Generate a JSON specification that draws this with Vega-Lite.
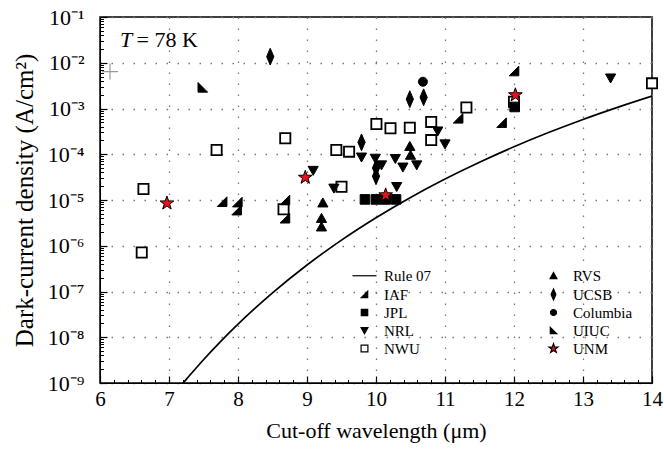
{
  "$schema": "https://vega.github.io/schema/vega-lite/v6.json",
  "width": 552,
  "height": 366,
  "autosize": {"type": "none"},
  "padding": {"left": 100, "top": 17, "right": 12, "bottom": 67},
  "background": "white",
  "config": {
    "font": "Liberation Serif",
    "view": {"stroke": "black", "strokeWidth": 1.5},
    "style": {
      "guide-label": {"font": "Liberation Serif", "fontSize": 15, "fill": "black"}
    },
    "axis": {
      "labelFont": "Liberation Serif",
      "titleFont": "Liberation Serif",
      "labelColor": "black",
      "titleColor": "black",
      "titleFontWeight": "normal",
      "domainColor": "black",
      "tickColor": "black"
    },
    "legend": {
      "orient": "none",
      "legendX": 257,
      "legendY": 251,
      "columns": 2,
      "labelFont": "Liberation Serif",
      "labelFontSize": 15,
      "labelColor": "black",
      "symbolSize": 64,
      "symbolStrokeWidth": 1.2,
      "labelOffset": 12,
      "columnPadding": 114,
      "rowPadding": 2,
      "padding": 0
    }
  },
  "datasets": {
    "rule07": [
      {"wl": 7.2, "J": 9.82e-10},
      {"wl": 7.25, "J": 1.20e-9},
      {"wl": 7.5, "J": 3.23e-9},
      {"wl": 7.75, "J": 8.12e-9},
      {"wl": 8.0, "J": 1.93e-8},
      {"wl": 8.5, "J": 9.32e-8},
      {"wl": 9.0, "J": 3.79e-7},
      {"wl": 9.5, "J": 1.33e-6},
      {"wl": 10.0, "J": 4.10e-6},
      {"wl": 10.5, "J": 1.14e-5},
      {"wl": 11.0, "J": 2.88e-5},
      {"wl": 11.5, "J": 6.71e-5},
      {"wl": 12.0, "J": 1.46e-4},
      {"wl": 12.5, "J": 2.98e-4},
      {"wl": 13.0, "J": 5.77e-4},
      {"wl": 13.5, "J": 1.06e-3},
      {"wl": 14.0, "J": 1.87e-3}
    ],
    "nwu": [
      {"lab": "NWU", "wl": 6.605, "J": 7.1e-7},
      {"lab": "NWU", "wl": 6.63, "J": 1.74e-5},
      {"lab": "NWU", "wl": 7.69, "J": 1.24e-4},
      {"lab": "NWU", "wl": 8.685, "J": 2.23e-4},
      {"lab": "NWU", "wl": 8.66, "J": 6.3e-6},
      {"lab": "NWU", "wl": 9.425, "J": 1.24e-4},
      {"lab": "NWU", "wl": 9.61, "J": 1.14e-4},
      {"lab": "NWU", "wl": 9.5, "J": 1.95e-5},
      {"lab": "NWU", "wl": 10.006, "J": 4.6e-4},
      {"lab": "NWU", "wl": 10.21, "J": 3.7e-4},
      {"lab": "NWU", "wl": 10.49, "J": 3.8e-4},
      {"lab": "NWU", "wl": 10.8, "J": 5.1e-4},
      {"lab": "NWU", "wl": 10.8, "J": 2.04e-4},
      {"lab": "NWU", "wl": 11.31, "J": 1.05e-3},
      {"lab": "NWU", "wl": 12.0, "J": 1.41e-3},
      {"lab": "NWU", "wl": 14.0, "J": 3.55e-3}
    ],
    "pts": [
      {"lab": "IAF", "wl": 12.0, "J": 6.6e-3},
      {"lab": "IAF", "wl": 11.19, "J": 6.1e-4},
      {"lab": "IAF", "wl": 11.82, "J": 4.9e-4},
      {"lab": "IAF", "wl": 7.77, "J": 9.2e-6},
      {"lab": "IAF", "wl": 7.99, "J": 9.0e-6},
      {"lab": "IAF", "wl": 7.98, "J": 6.0e-6},
      {"lab": "IAF", "wl": 8.68, "J": 1.0e-5},
      {"lab": "IAF", "wl": 8.68, "J": 4.0e-6},
      {"lab": "JPL", "wl": 9.84, "J": 1.03e-5},
      {"lab": "JPL", "wl": 10.0, "J": 1.03e-5},
      {"lab": "JPL", "wl": 10.14, "J": 1.03e-5},
      {"lab": "JPL", "wl": 10.29, "J": 1.03e-5},
      {"lab": "JPL", "wl": 12.01, "J": 1.08e-3},
      {"lab": "NRL", "wl": 13.4, "J": 4.6e-3},
      {"lab": "NRL", "wl": 10.895, "J": 3.2e-4},
      {"lab": "NRL", "wl": 11.0, "J": 1.67e-4},
      {"lab": "NRL", "wl": 9.79, "J": 8.6e-5},
      {"lab": "NRL", "wl": 9.99, "J": 8.1e-5},
      {"lab": "NRL", "wl": 10.08, "J": 5.8e-5},
      {"lab": "NRL", "wl": 10.28, "J": 8.0e-5},
      {"lab": "NRL", "wl": 10.39, "J": 5.2e-5},
      {"lab": "NRL", "wl": 10.59, "J": 5.8e-5},
      {"lab": "NRL", "wl": 10.3, "J": 1.95e-5},
      {"lab": "NRL", "wl": 9.09, "J": 4.4e-5},
      {"lab": "NRL", "wl": 9.39, "J": 1.8e-5},
      {"lab": "RVS", "wl": 10.49, "J": 1.5e-4},
      {"lab": "RVS", "wl": 10.5, "J": 9.6e-5},
      {"lab": "RVS", "wl": 9.23, "J": 8.7e-6},
      {"lab": "RVS", "wl": 9.21, "J": 4.0e-6},
      {"lab": "RVS", "wl": 9.21, "J": 2.6e-6},
      {"lab": "UCSB", "wl": 8.467, "J": 1.36e-2},
      {"lab": "UCSB", "wl": 10.49, "J": 1.6e-3},
      {"lab": "UCSB", "wl": 10.69, "J": 1.76e-3},
      {"lab": "UCSB", "wl": 9.79, "J": 1.82e-4},
      {"lab": "UCSB", "wl": 10.0, "J": 5.0e-5},
      {"lab": "UCSB", "wl": 10.0, "J": 3.3e-5},
      {"lab": "Columbia", "wl": 10.68, "J": 3.85e-3},
      {"lab": "UIUC", "wl": 7.49, "J": 2.9e-3},
      {"lab": "UNM", "wl": 6.97, "J": 8.5e-6},
      {"lab": "UNM", "wl": 8.975, "J": 3.1e-5},
      {"lab": "UNM", "wl": 10.14, "J": 1.28e-5},
      {"lab": "UNM", "wl": 12.02, "J": 1.97e-3}
    ]
  },
  "layer": [
    {
      "data": {"name": "rule07"},
      "mark": {"type": "line", "color": "black", "strokeWidth": 1.7, "clip": true, "interpolate": "monotone"},
      "encoding": {
        "x": {
          "field": "wl", "type": "quantitative",
          "scale": {"domain": [6, 14], "nice": false, "zero": false},
          "axis": {
            "title": "Cut-off wavelength (μm)",
            "values": [6, 7, 8, 9, 10, 11, 12, 13, 14],
            "format": "d",
            "tickSize": -7,
            "tickWidth": 1.2,
            "labelPadding": 12,
            "labelFont": "Liberation Serif",
            "labelFontSize": 21,
            "labelFlush": false,
            "titleFontSize": 22,
            "titlePadding": 11,
            "grid": true,
            "gridColor": "#777",
            "gridDash": [1.5, 9.5],
            "gridWidth": 1.3
          }
        },
        "y": {
          "field": "J", "type": "quantitative",
          "scale": {"type": "log", "domain": [1e-9, 0.1], "nice": false},
          "axis": {
            "title": "Dark-current density (A/cm²)",
            "values": [1e-9, 1e-8, 1e-7, 1e-6, 1e-5, 1e-4, 1e-3, 1e-2, 1e-1],
            "labelExpr": "'10' + ['⁻¹','⁻²','⁻³','⁻⁴','⁻⁵','⁻⁶','⁻⁷','⁻⁸','⁻⁹'][round(-log(datum.value)/LN10) - 1]",
            "tickSize": -7,
            "tickWidth": 1.2,
            "labelPadding": 23,
            "labelFont": "Liberation Serif",
            "labelFontSize": 22,
            "labelFlush": false,
            "titleFontSize": 25,
            "titlePadding": 10,
            "grid": true,
            "gridColor": "#777",
            "gridDash": [1.5, 9.5],
            "gridWidth": 1.3
          }
        }
      }
    },
    {
      "data": {"name": "nwu"},
      "mark": {"type": "point", "strokeWidth": 1.8, "opacity": 1, "fillOpacity": 1, "size": 144},
      "encoding": {
        "x": {
          "field": "wl", "type": "quantitative",
          "scale": {"domain": [6, 14], "nice": false, "zero": false},
          "axis": {
            "orient": "bottom",
            "title": null,
            "labels": false,
            "grid": false,
            "domain": false,
            "tickSize": -3.5,
            "tickWidth": 1,
            "values": [6.2, 6.4, 6.6, 6.8, 7.2, 7.4, 7.6, 7.8, 8.2, 8.4, 8.6, 8.8, 9.2, 9.4, 9.6, 9.8, 10.2, 10.4, 10.6, 10.8, 11.2, 11.4, 11.6, 11.8, 12.2, 12.4, 12.6, 12.8, 13.2, 13.4, 13.6, 13.8]
          }
        },
        "y": {
          "field": "J", "type": "quantitative",
          "scale": {"type": "log", "domain": [1e-9, 0.1], "nice": false},
          "axis": {
            "orient": "left",
            "title": null,
            "labels": false,
            "grid": false,
            "domain": false,
            "tickSize": -3.5,
            "tickWidth": 1,
            "values": [2e-9, 3e-9, 4e-9, 5e-9, 6e-9, 7e-9, 8e-9, 9e-9, 2e-8, 3e-8, 4e-8, 5e-8, 6e-8, 7e-8, 8e-8, 9e-8, 2e-7, 3e-7, 4e-7, 5e-7, 6e-7, 7e-7, 8e-7, 9e-7, 2e-6, 3e-6, 4e-6, 5e-6, 6e-6, 7e-6, 8e-6, 9e-6, 2e-5, 3e-5, 4e-5, 5e-5, 6e-5, 7e-5, 8e-5, 9e-5, 2e-4, 3e-4, 4e-4, 5e-4, 6e-4, 7e-4, 8e-4, 9e-4, 2e-3, 3e-3, 4e-3, 5e-3, 6e-3, 7e-3, 8e-3, 9e-3, 2e-2, 3e-2, 4e-2, 5e-2, 6e-2, 7e-2, 8e-2, 9e-2]
          }
        },
        "shape": {
          "field": "lab", "type": "nominal",
          "scale": {
            "domain": ["Rule 07", "IAF", "JPL", "NRL", "NWU", "RVS", "UCSB", "Columbia", "UIUC", "UNM"],
            "range": [
              "M-3,0L3,0",
              "M0.8,-0.8L0.8,0.8L-0.8,0.8Z",
              "M-0.8,-0.8L0.8,-0.8L0.8,0.8L-0.8,0.8Z",
              "M-0.85,-0.7L0.85,-0.7L0,0.8Z",
              "M-0.85,-0.85L0.85,-0.85L0.85,0.85L-0.85,0.85Z",
              "M0,-0.8L0.85,0.7L-0.85,0.7Z",
              "M0,-1.4L0.6,0L0,1.4L-0.6,0Z",
              "M0.75,0A0.75,0.75,0,1,1,-0.75,0A0.75,0.75,0,1,1,0.75,0Z",
              "M-0.8,-0.8L0.8,0.8L-0.8,0.8Z",
              "M0,-1.2L0.282,-0.388L1.141,-0.371L0.456,0.148L0.705,0.971L0,0.48L-0.705,0.971L-0.456,0.148L-1.141,-0.371L-0.282,-0.388Z"
            ]
          },
          "legend": {"title": null, "labelFont": "Liberation Serif", "labelFontSize": 15}
        },
        "fill": {
          "field": "lab", "type": "nominal",
          "scale": {
            "domain": ["Rule 07", "IAF", "JPL", "NRL", "NWU", "RVS", "UCSB", "Columbia", "UIUC", "UNM"],
            "range": ["transparent", "black", "black", "black", "white", "black", "black", "black", "black", "#e3121c"]
          },
          "legend": {"title": null, "labelFont": "Liberation Serif", "labelFontSize": 15}
        },
        "stroke": {
          "field": "lab", "type": "nominal",
          "scale": {
            "domain": ["Rule 07", "IAF", "JPL", "NRL", "NWU", "RVS", "UCSB", "Columbia", "UIUC", "UNM"],
            "range": ["black", "black", "black", "black", "black", "black", "black", "black", "black", "black"]
          },
          "legend": {"title": null, "labelFont": "Liberation Serif", "labelFontSize": 15}
        }
      }
    },
    {
      "data": {"name": "pts"},
      "mark": {"type": "point", "strokeWidth": 1, "opacity": 1, "fillOpacity": 1, "size": 144},
      "encoding": {
        "x": {"field": "wl", "type": "quantitative", "scale": {"domain": [6, 14], "nice": false, "zero": false}, "axis": null},
        "y": {"field": "J", "type": "quantitative", "scale": {"type": "log", "domain": [1e-9, 0.1], "nice": false}, "axis": null},
        "shape": {"field": "lab", "type": "nominal", "legend": {"title": null, "labelFont": "Liberation Serif", "labelFontSize": 15}},
        "fill": {"field": "lab", "type": "nominal", "legend": {"title": null, "labelFont": "Liberation Serif", "labelFontSize": 15}},
        "stroke": {"field": "lab", "type": "nominal", "legend": {"title": null, "labelFont": "Liberation Serif", "labelFontSize": 15}}
      }
    },
    {
      "data": {"values": [{"wl": 6.145, "J": 6.4e-3}]},
      "mark": {"type": "point", "shape": "M-1,0L1,0M0,-1L0,1", "size": 256, "stroke": "#9a9a9a", "strokeWidth": 1.2, "filled": false, "opacity": 1},
      "encoding": {
        "x": {"field": "wl", "type": "quantitative", "scale": {"domain": [6, 14], "nice": false, "zero": false}, "axis": null},
        "y": {"field": "J", "type": "quantitative", "scale": {"type": "log", "domain": [1e-9, 0.1], "nice": false}, "axis": null}
      }
    },
    {
      "data": {"values": [{"wl": 6.29, "J": 0.0224, "t": "T"}]},
      "mark": {"type": "text", "align": "left", "baseline": "alphabetic", "fontSize": 22, "font": "Liberation Serif", "fontStyle": "italic", "color": "black"},
      "encoding": {
        "x": {"field": "wl", "type": "quantitative", "scale": {"domain": [6, 14], "nice": false, "zero": false}, "axis": null},
        "y": {"field": "J", "type": "quantitative", "scale": {"type": "log", "domain": [1e-9, 0.1], "nice": false}, "axis": null},
        "text": {"field": "t"}
      }
    },
    {
      "data": {"values": [{"wl": 6.53, "J": 0.0224, "t": "= 78 K"}]},
      "mark": {"type": "text", "align": "left", "baseline": "alphabetic", "fontSize": 22, "font": "Liberation Serif", "color": "black"},
      "encoding": {
        "x": {"field": "wl", "type": "quantitative", "scale": {"domain": [6, 14], "nice": false, "zero": false}, "axis": null},
        "y": {"field": "J", "type": "quantitative", "scale": {"type": "log", "domain": [1e-9, 0.1], "nice": false}, "axis": null},
        "text": {"field": "t"}
      }
    }
  ],
  "resolve": {"axis": {"x": "independent", "y": "independent"}}
}
